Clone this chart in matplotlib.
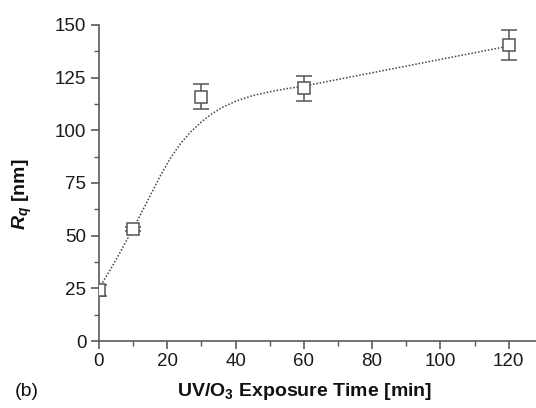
import matplotlib
matplotlib.use("Agg")
import matplotlib.pyplot as plt
from matplotlib.ticker import MultipleLocator

plt.rcParams['font.family'] = ['Liberation Sans', 'DejaVu Sans']
plt.rcParams['mathtext.fontset'] = 'custom'
plt.rcParams['mathtext.it'] = 'Liberation Sans:bold:italic'
plt.rcParams['mathtext.rm'] = 'Liberation Sans:bold'
plt.rcParams['mathtext.bf'] = 'Liberation Sans:bold'

# measured data
time_min = [0, 10, 30, 60, 120]
rq_nm = [24, 53, 116, 120, 140.5]
rq_err = [2.5, 1.0, 5.8, 6.0, 7.0]

# fitted curve
fit_x = [0, 3, 6, 9, 12, 15, 18, 21, 24, 27, 30, 33, 36, 40, 45, 50, 55, 60, 90, 120]
fit_y = [25, 33, 41.5, 50.5, 59.5, 69, 78.5, 87, 94, 99.5, 104, 107.8, 110.8,
         113.8, 116.5, 118.3, 119.8, 121, 130.5, 140]

x_ticks = [0, 20, 40, 60, 80, 100, 120]
y_ticks = [0, 25, 50, 75, 100, 125, 150]

W, H = 536, 408
fig = plt.figure(figsize=(W / 100, H / 100), dpi=100)
ax = fig.add_axes([99 / W, (H - 341) / H, (W - 99) / W, (341 - 25) / H])

axis_col = '#5a5a5a'
ax.plot(fit_x, fit_y, linestyle=(0, (1, 1.2)), color='#444444', lw=1.1, zorder=2)
ax.errorbar(time_min, rq_nm, yerr=rq_err, fmt='s', ms=8.5, mfc='white',
            mec='#555555', mew=1.1, ecolor='#555555', elinewidth=1.1,
            capsize=6, capthick=1.1, zorder=3)

ax.set_xlim(0, 128)
ax.set_ylim(0, 150)
ax.set_xticks(x_ticks)
ax.set_yticks(y_ticks)
ax.xaxis.set_minor_locator(MultipleLocator(10))
ax.yaxis.set_minor_locator(MultipleLocator(12.5))

for s in ['top', 'right']:
    ax.spines[s].set_visible(False)
for s in ['left', 'bottom']:
    ax.spines[s].set_color(axis_col)
    ax.spines[s].set_linewidth(1.2)

ax.tick_params(which='major', direction='out', length=6, width=1.2,
               color=axis_col, labelsize=13.5, labelcolor='#1a1a1a', pad=3)
ax.tick_params(which='minor', direction='out', length=3.5, width=1.0,
               color=axis_col)
ax.patch.set_visible(False)

ax.set_xlabel('UV/O$_3$ Exposure Time [min]', fontsize=14, fontweight='bold',
              color='#111111')
ax.xaxis.set_label_coords((305 - 99) / (W - 99), -(391 - 341) / (341 - 25))
ax.xaxis.label.set_va('center')
ax.xaxis.label.set_ha('center')
ax.set_ylabel('$R_q$ [nm]', fontsize=14, fontweight='bold', color='#111111')
ax.yaxis.set_label_coords(-(99 - 22) / (W - 99), (341 - 194) / (341 - 25))
ax.yaxis.label.set_va('center')
ax.yaxis.label.set_ha('center')

fig.text(27 / W, 1 - 392 / H, '(b)', fontsize=14, color='#111111',
         ha='center', va='center')

fig.savefig('out.png', dpi=100)
